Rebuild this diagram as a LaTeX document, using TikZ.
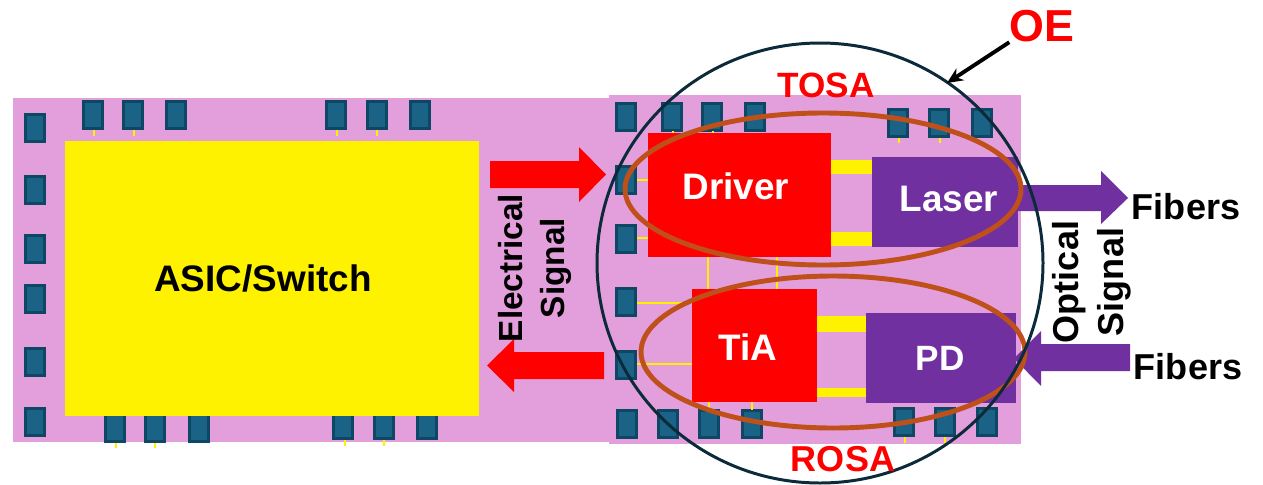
\documentclass[tikz,border=0pt]{standalone}
\usepackage{fontspec}
\setmainfont{Liberation Sans}
\usepackage{xcolor}
\usepackage{tikz}
\usetikzlibrary{arrows.meta}

\definecolor{board}{HTML}{E39EDC}
\definecolor{padedge}{HTML}{0D4763}
\definecolor{padfill}{HTML}{1A6286}
\definecolor{oepurple}{HTML}{7030A0}
\definecolor{oering}{HTML}{0B2A3A}
\definecolor{osabrown}{HTML}{C0501A}

\begin{document}
\begin{tikzpicture}[x=0.02cm,y=-0.02cm,
  pad/.style={draw=padedge, fill=padfill, line width=1.6pt},
  trace/.style={yellow, line width=1.6pt},
  block/.style={fill=#1, inner sep=0pt, outer sep=0pt},
  lbl/.style={inner sep=0pt, font=\bfseries\fontsize{21}{25}\selectfont},
  osa/.style={draw=osabrown, line width=2.8pt}]
\useasboundingbox (0,0) rectangle (1263,484);

% boards
\fill[board] (13,98) rectangle (612,442);
\fill[board] (609,95) rectangle (1021,444);

% pads, left board
\foreach \x/\y in {93/115,133/115,176/115,336/115,377/115,420/115,
  35/128,35/190,35/249,35/299,35/362,35/422,
  115/428,155/428,199/428,343/425,384/425,427/425}
  \filldraw[pad] (\x-9.5,\y-13.5) rectangle (\x+9.5,\y+13.5);
% pads, right board
\foreach \x/\y in {626/117,672/117,712/117,755/117,898/123,939/123,982/123,
  626/180,626/239,626/302,626/365,
  627/424,668/424,709/424,752/424,904/422,945/422,987/422}
  \filldraw[pad] (\x-9.5,\y-13.5) rectangle (\x+9.5,\y+13.5);

% stubs
\foreach \x/\ya/\yb in {94/130/136,134/130/136,337/130/136,377/130/136,
  116/443/448,155/443/448,345/440/446,384/440/446,
  673/131/136,713/131/136,899/138/143,940/138/143,
  905/437/443,945/437/443}
  \draw[trace] (\x,\ya) -- (\x,\yb);

% chips
\node[block=yellow, minimum width=414*0.02cm, minimum height=275*0.02cm] (asic) at (272,278.5) {};
\node[block=red, minimum width=183*0.02cm, minimum height=124*0.02cm] (driver) at (739.5,195) {};
\node[block=oepurple, minimum width=146*0.02cm, minimum height=90*0.02cm] (laser) at (945,202) {};
\node[block=red, minimum width=125*0.02cm, minimum height=113*0.02cm] (tia) at (754.5,345.5) {};
\node[block=oepurple, minimum width=150*0.02cm, minimum height=90*0.02cm] (pd) at (941,358) {};

% wiring
\fill[yellow] (driver.east |- 0,160) rectangle (laser.west |- 0,174);
\fill[yellow] (driver.east |- 0,232) rectangle (laser.west |- 0,246);
\fill[yellow] (tia.east |- 0,316) rectangle (pd.west |- 0,332);
\fill[yellow] (tia.east |- 0,388) rectangle (pd.west |- 0,397);
\draw[trace] (637,180) -- (driver.west |- 0,180);
\draw[trace] (637,238) -- (driver.west |- 0,238);
\draw[trace] (637,303) -- (tia.west |- 0,303);
\draw[trace] (637,364) -- (tia.west |- 0,364);
\draw[trace] (driver.south -| 708,0) -- (tia.north -| 708,0);
\draw[trace] (driver.south -| 777,0) -- (tia.north -| 777,0);
\draw[trace] (tia.south -| 709,0) -- (709,410);
\draw[trace] (tia.south -| 752,0) -- (752,410);

% electrical arrows
\fill[red] (490,161) -- (579,161) -- (579,147) -- (606,174.5) -- (579,202) -- (579,188) -- (490,188) -- cycle;
\fill[red] (604,352) -- (514,352) -- (514,339) -- (487,365.5) -- (514,392) -- (514,379) -- (604,379) -- cycle;

% optical arrows
\fill[oepurple] (laser.east |- 0,185) -- (1101,185) -- (1101,171) -- (1128,198) -- (1101,224) -- (1101,211) -- (laser.east |- 0,211) -- cycle;
\fill[oepurple] (1130,344) -- (1041,344) -- (1041,331) -- (1014,358.5) -- (1041,386) -- (1041,371) -- (1130,371) -- cycle;

% TOSA / ROSA / OE outlines
\draw[osa] (823,189) ellipse [x radius=198, y radius=76];
\draw[osa] (833,352) ellipse [x radius=192, y radius=76];
\draw[oering, line width=1.7pt] (820,263) ellipse [x radius=223, y radius=220];

% labels
\node[lbl] (asiclbl) at (263,278) {ASIC/Switch};
\node[lbl, text=white] (driverlbl) at (736,186) {Driver};
\node[lbl, text=white] (laserlbl) at (949,199) {Laser};
\node[lbl, text=white] (tialbl) at (748,347) {TiA};
\node[lbl, text=white, font=\bfseries\fontsize{20}{24}\selectfont] (pdlbl) at (940,358) {PD};
\node[lbl, text=red, font=\bfseries\fontsize{20}{24}\selectfont] (tosalbl) at (826,85) {TOSA};
\node[lbl, text=red, font=\bfseries\fontsize{20.5}{24}\selectfont] (rosalbl) at (843,459) {ROSA};
\node[lbl, text=red, font=\bfseries\fontsize{25.5}{30}\selectfont] (oelbl) at (1042,26) {OE};
\node[lbl, font=\bfseries\fontsize{20.5}{24}\selectfont] (fibout) at (1186,207) {Fibers};
\node[lbl, font=\bfseries\fontsize{20.5}{24}\selectfont] (fibin) at (1188,367) {Fibers};
\node[lbl, rotate=90, align=center, font=\bfseries\fontsize{19}{23.8}\selectfont] (elsig) at (535,268) {Electrical\\Signal};
\node[lbl, rotate=90, align=center, font=\bfseries\fontsize{20.5}{25.5}\selectfont] (optsig) at (1092,282) {Optical\\Signal};

% OE pointer
\coordinate (oetip) at (947,83);
\draw[-{Stealth[length=9pt,width=8pt]}, line width=2.2pt] (oelbl.south west) -- (oetip);
\end{tikzpicture}
\end{document}
